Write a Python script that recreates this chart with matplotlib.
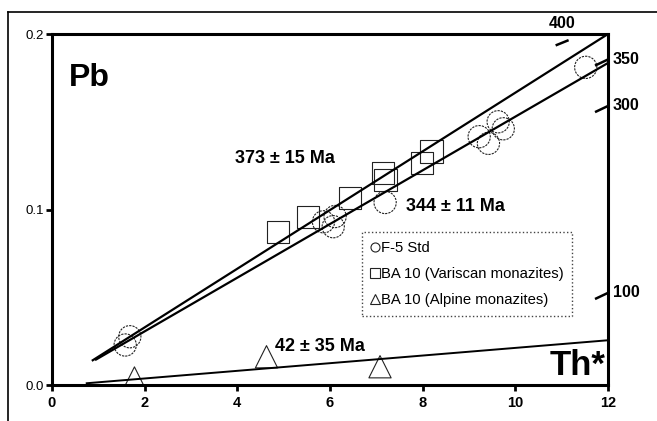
import numpy as np
import matplotlib
matplotlib.use('Agg')
import matplotlib.pyplot as plt
from matplotlib.lines import Line2D

plt.rcParams['font.family'] = ['Liberation Sans', 'DejaVu Sans']

# F-5 Std (circles)
f5_th = [1.58, 1.68, 5.86, 6.11, 6.07, 7.19, 9.22, 9.42, 9.63, 9.74, 11.52]
f5_pb = [0.0228, 0.0275, 0.093, 0.096, 0.0902, 0.104, 0.1415, 0.1377, 0.150, 0.146, 0.181]

# BA 10 Variscan (squares)
var_th = [4.88, 5.53, 6.43, 7.15, 7.20, 7.98, 8.19]
var_pb = [0.0873, 0.0959, 0.1064, 0.121, 0.117, 0.1267, 0.133]

# BA 10 Alpine (triangles)
alp_th = [1.78, 4.63, 7.08]
alp_pb = [0.004, 0.0161, 0.0104]

# isochron end points
iso373_x = [0.88, 12.0]
iso373_y = [0.0141, 0.200]
iso344_x = [0.95, 12.0]
iso344_y = [0.0145, 0.1835]
iso42_x = [0.75, 12.0]
iso42_y = [0.0010, 0.0255]

fig = plt.figure(figsize=(6.57, 4.21), dpi=100)
ax = fig.add_axes([0.0791, 0.0855, 0.8463, 0.8337])

# outer frame (top and left only)
fig.add_artist(Line2D([0.0122, 1.0], [0.9715, 0.9715], color='black', lw=1.2))
fig.add_artist(Line2D([0.0122, 0.0122], [0.0, 0.9715], color='black', lw=1.2))

ax.plot(iso373_x, iso373_y, color='black', lw=1.6, zorder=3)
ax.plot(iso344_x, iso344_y, color='black', lw=1.6, zorder=3)
ax.plot(iso42_x, iso42_y, color='black', lw=1.4, zorder=3)

ax.scatter(f5_th, f5_pb, s=16**2, marker='o', facecolors='none',
           edgecolors='#222222', linewidths=0.8, linestyle=(0, (2, 1)), zorder=2)
ax.scatter(var_th, var_pb, s=16**2, marker='s', facecolors='none',
           edgecolors='#222222', linewidths=0.8, zorder=2)
ax.scatter(alp_th, alp_pb, s=16**2, marker='^', facecolors='none',
           edgecolors='#222222', linewidths=0.8, zorder=2)

ax.set_xlim(0, 12)
ax.set_ylim(0, 0.2)
ax.set_xticks([0, 2, 4, 6, 8, 10, 12])
ax.set_yticks([0.0, 0.1, 0.2])
ax.set_yticklabels(['0.0', '0.1', '0.2'], fontsize=9.5)
ax.set_xticklabels(['0', '2', '4', '6', '8', '10', '12'], fontsize=10.5, fontweight='bold')
ax.tick_params(axis='both', direction='out', length=4, width=2, pad=4)
ax.tick_params(axis='y', pad=2)
for sp in ax.spines.values():
    sp.set_linewidth(2.2)

ax.text(0.031, 0.876, 'Pb', transform=ax.transAxes, fontsize=23,
        fontweight='bold', va='center', ha='left')
ax.text(0.996, 0.055, 'Th*', transform=ax.transAxes, fontsize=25,
        fontweight='bold', va='center', ha='right')

ax.text(3.95, 0.129, '373 \u00b1 15 Ma', fontsize=13, fontweight='bold', va='center')
ax.text(7.63, 0.102, '344 \u00b1 11 Ma', fontsize=13, fontweight='bold', va='center')
ax.text(4.82, 0.0217, '42 \u00b1 35 Ma', fontsize=13, fontweight='bold', va='center')

# age ticks on the right side
ages = ['350', '300', '100']
age_y = [0.1855, 0.159, 0.0525]
for lab, yy in zip(ages, age_y):
    ax.plot([11.72, 12.0], [yy - 0.0035, yy], color='black', lw=1.8,
            clip_on=False, solid_capstyle='butt')
    ax.text(12.1, yy, lab, fontsize=11.5, fontweight='bold', va='center', ha='left')
ax.plot([10.87, 11.15], [0.1935, 0.1965], color='black', lw=1.8, solid_capstyle='butt')
ax.text(11.0, 0.2015, '400', fontsize=11.5, fontweight='bold', va='bottom', ha='center')

handles = [
    Line2D([], [], marker='o', ls='none', mfc='none', mec='#222222', ms=6.5, mew=0.8),
    Line2D([], [], marker='s', ls='none', mfc='none', mec='#222222', ms=6.5, mew=0.8),
    Line2D([], [], marker='^', ls='none', mfc='none', mec='#222222', ms=6.5, mew=0.8),
]
labels = ['F-5 Std', 'BA 10 (Variscan monazites)', 'BA 10 (Alpine monazites)']
leg = ax.legend(handles, labels, loc='upper left', bbox_to_anchor=(0.558, 0.436),
                fontsize=10.7, handlelength=0.5, handletextpad=0.15, labelspacing=0.82,
                borderpad=0.6, borderaxespad=0, fancybox=False, framealpha=1)
leg.get_frame().set_edgecolor('#444444')
leg.get_frame().set_linestyle(':')
leg.get_frame().set_linewidth(1.0)

fig.savefig('out.png', dpi=100)
